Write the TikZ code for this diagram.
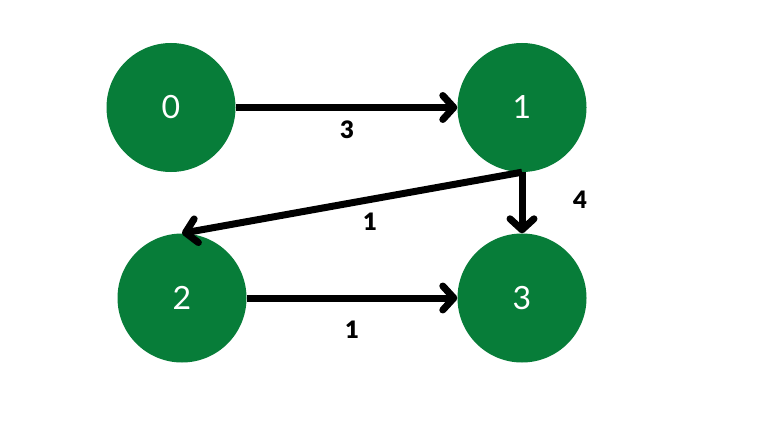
\documentclass[tikz,border=0pt]{standalone}
\usepackage{fontspec}
\usetikzlibrary{arrows.meta}
\newfontfamily\nodefont{Lato}
\newfontfamily\labfont{Lato}[UprightFont=* Black]
\definecolor{gnode}{RGB}{7,125,57}
\begin{document}
\begin{tikzpicture}[x=1pt,y=1pt,
  vert/.style={circle,fill=gnode,minimum size=129pt,inner sep=0pt,text=white,font=\nodefont\fontsize{32}{32}\selectfont},
  edge/.style={line width=7pt,-{Straight Barb[length=11pt,width=24pt,line cap=round,line join=round]}},
  wlab/.style={font=\labfont\fontsize{24}{24}\selectfont,text=black}]
\useasboundingbox[fill=white] (0,0) rectangle (768,432);
\node[vert] (n0) at (171,324.5) {0};
\node[vert] (n1) at (522,324.5) {1};
\node[vert] (n2) at (182,134) {2};
\node[vert] (n3) at (522,134) {3};
\draw[edge] (n0.east) -- (n1.west);
\draw[edge] (n1.south) -- (n2.north);
\draw[edge] (n1.south) -- (n3.north);
\draw[edge] (n2.east) -- (n3.west);
\node[wlab] (l03) at (347,302) {3};
\node[wlab] (l12) at (370,210) {1};
\node[wlab] (l13) at (580,232) {4};
\node[wlab] (l23) at (352,102) {1};
\end{tikzpicture}
\end{document}
